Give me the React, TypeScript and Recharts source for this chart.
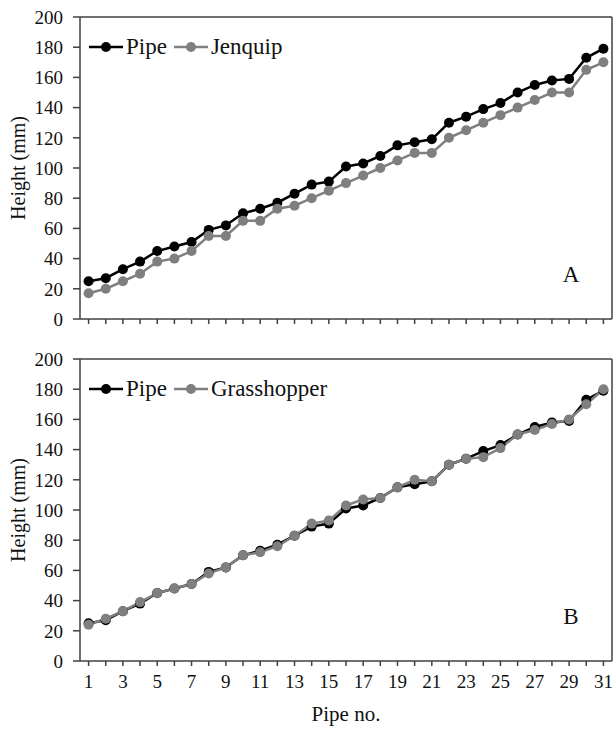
import React from 'react';
import {
  LineChart,
  Line,
  XAxis,
  YAxis,
  Legend,
  ReferenceLine,
  Label,
} from 'recharts';

const FONT = '"Liberation Serif", "Times New Roman", serif';
const AXIS = '#404040';
const BLACK = '#000000';
const GREY = '#7f7f7f';

const pipeNo = [1, 2, 3, 4, 5, 6, 7, 8, 9, 10, 11, 12, 13, 14, 15, 16, 17, 18, 19, 20, 21, 22, 23, 24, 25, 26, 27, 28, 29, 30, 31];
const pipe = [25, 27, 33, 38, 45, 48, 51, 59, 62, 70, 73, 77, 83, 89, 91, 101, 103, 108, 115, 117, 119, 130, 134, 139, 143, 150, 155, 158, 159, 173, 179];
const jenquip = [17, 20, 25, 30, 38, 40, 45, 55, 55, 65, 65, 73, 75, 80, 85, 90, 95, 100, 105, 110, 110, 120, 125, 130, 135, 140, 145, 150, 150, 165, 170];
const grasshopper = [24, 28, 33, 39, 45, 48, 51, 58, 62, 70, 72, 76, 83, 91, 93, 103, 107, 108, 115, 120, 119, 130, 134, 135, 141, 150, 153, 157, 160, 170, 180];
const yTicks = [0, 20, 40, 60, 80, 100, 120, 140, 160, 180, 200];
const seriesOrder = ['pipe', 'other'];

const dataA = pipeNo.map((n, i) => ({ n, pipe: pipe[i], other: jenquip[i] }));
const dataB = pipeNo.map((n, i) => ({ n, pipe: pipe[i], other: grasshopper[i] }));

interface LegendItem {
  value: string;
  color: string;
  dataKey?: string;
}

const LegendContent = ({ payload }: { payload?: LegendItem[] }) => {
  const items = [...(payload || [])].sort(
    (a, b) => seriesOrder.indexOf(String(a.dataKey)) - seriesOrder.indexOf(String(b.dataKey))
  );
  return (
    <div style={{ display: 'flex', alignItems: 'center', fontFamily: FONT, fontSize: 23, color: '#111', lineHeight: '26px' }}>
      {items.map((p) => (
        <span key={p.value} style={{ display: 'flex', alignItems: 'center', marginRight: 7 }}>
          <svg width={34} height={12}>
            <line x1={0} y1={6} x2={34} y2={6} stroke={p.color} strokeWidth={2.5} />
            <circle cx={17} cy={6} r={5} fill={p.color} />
          </svg>
          <span style={{ marginLeft: 3 }}>{p.value}</span>
        </span>
      ))}
    </div>
  );
};

const yLabel = (props: { viewBox?: { x: number; y: number; width: number; height: number } }) => {
  const vb = props.viewBox || { x: 0, y: 17, width: 80, height: 302 };
  const cy = vb.y + vb.height / 2;
  return (
    <text
      x={18}
      y={cy}
      transform={`rotate(-90, 18, ${cy})`}
      textAnchor="middle"
      dominantBaseline="central"
      style={{ fontFamily: FONT, fontSize: 20 }}
      fill="#111"
    >
      Height (mm)
    </text>
  );
};

function Panel({
  data,
  otherName,
  letter,
  height,
  top,
  marginTop,
  showLabels,
}: {
  data: { n: number; pipe: number; other: number }[];
  otherName: string;
  letter: string;
  height: number;
  top: number;
  marginTop: number;
  showLabels: boolean;
}) {
  const tickStyle = { fontFamily: FONT, fontSize: 19, fill: '#111', style: { fontFamily: FONT } };
  return (
    <div style={{ position: 'absolute', left: 0, top, width: 614, height, fontFamily: FONT }}>
      <LineChart
        width={614}
        height={height}
        data={data}
        margin={{ top: marginTop, right: 2, left: 0, bottom: 0 }}
        style={{ fontFamily: FONT }}
      >
        <XAxis
          dataKey="n"
          type="number"
          domain={[0.5, 31.5]}
          ticks={pipeNo}
          interval={0}
          height={showLabels ? 77 : 21}
          tickSize={5}
          tickMargin={9}
          tickFormatter={(v: number) => (showLabels && v % 2 === 1 ? String(v) : '')}
          tick={tickStyle}
          tickLine={{ stroke: AXIS, strokeWidth: 1.5 }}
          axisLine={{ stroke: AXIS, strokeWidth: 1.5 }}
          label={
            showLabels
              ? { value: 'Pipe no.', position: 'insideBottom', offset: 17, fontFamily: FONT, fontSize: 21, fill: '#111' }
              : undefined
          }
        />
        <YAxis
          domain={[0, 200]}
          ticks={yTicks}
          interval={0}
          width={80}
          tickSize={7}
          tickMargin={10}
          tick={tickStyle}
          tickLine={{ stroke: AXIS, strokeWidth: 1.5 }}
          axisLine={{ stroke: AXIS, strokeWidth: 1.5 }}
        >
          <Label content={yLabel} />
        </YAxis>
        <ReferenceLine y={200} stroke={AXIS} strokeWidth={1.5} />
        <ReferenceLine x={31.5} stroke={AXIS} strokeWidth={1.5} />
        <Legend
          layout="horizontal"
          verticalAlign="middle"
          align="center"
          content={<LegendContent />}
          wrapperStyle={{ top: marginTop + 17, left: 89, width: 'auto' }}
        />
        <Line
          dataKey="pipe"
          name="Pipe"
          stroke={BLACK}
          strokeWidth={2.5}
          dot={{ r: 5, fill: BLACK, stroke: BLACK, strokeWidth: 0 }}
          activeDot={false}
          isAnimationActive={false}
        />
        <Line
          dataKey="other"
          name={otherName}
          stroke={GREY}
          strokeWidth={2.5}
          dot={{ r: 5, fill: GREY, stroke: GREY, strokeWidth: 0 }}
          activeDot={false}
          isAnimationActive={false}
        />
      </LineChart>
      <div
        style={{
          position: 'absolute',
          left: 558,
          top: marginTop + 245,
          width: 26,
          textAlign: 'center',
          fontFamily: FONT,
          fontSize: 23,
          lineHeight: '26px',
          color: '#111',
        }}
      >
        {letter}
      </div>
    </div>
  );
}

export default function App() {
  return (
    <div style={{ position: 'absolute', left: 0, top: 0, width: 614, height: 738, background: '#fff', fontFamily: FONT }}>
      <Panel data={dataA} otherName="Jenquip" letter="A" height={340} top={0} marginTop={17} showLabels={false} />
      <Panel data={dataB} otherName="Grasshopper" letter="B" height={398} top={340} marginTop={19} showLabels />
    </div>
  );
}
